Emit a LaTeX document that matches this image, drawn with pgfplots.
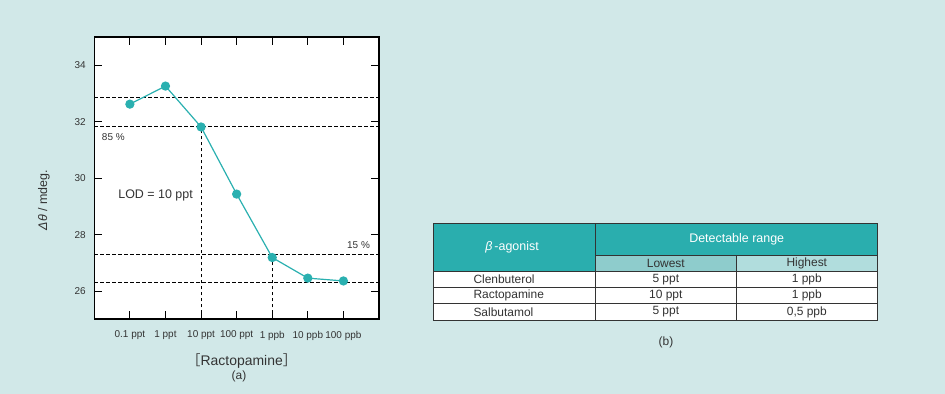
\documentclass[border=0pt]{standalone}
\usepackage{pgfplots}
\pgfplotsset{compat=1.18}
\usepackage{fontspec}
\setmainfont{Liberation Sans}
\newfontfamily\cjk{Noto Sans CJK JP}
\definecolor{bg}{HTML}{D1E8E8}
\definecolor{tealline}{HTML}{2AB0B0}
\definecolor{hdr}{HTML}{2AAEAE}
\definecolor{low}{HTML}{8ECCCC}
\definecolor{high}{HTML}{B1DDDD}
\definecolor{txt}{HTML}{333333}
\begin{document}
\begin{tikzpicture}
\fill[bg] (0,0) rectangle (945bp,394bp);
\begin{axis}[
 at={(94.3bp,74.7bp)}, anchor=south west,
 scale only axis, width=284.7bp, height=282bp,
 xmin=-1, xmax=7, ymin=25, ymax=35,
 xtick={0,1,2,3,4,5,6},
 xticklabels={0.1 ppt,1 ppt,10 ppt,100 ppt,1 ppb,10 ppb,100 ppb},
 ytick={26,28,30,32,34},
 tick align=inside, major tick length=8bp,
 axis line style={line width=1.6bp},
 every tick/.style={black, line width=1bp},
 axis background/.style={fill=white},
 ticklabel style={font=\fontsize{10}{12}\selectfont, text=txt},
 xticklabel style={yshift=-8bp},
 yticklabel style={xshift=-5bp},
 /pgf/number format/assume math mode=true,
 clip=false,
]
\addplot[black, line width=0.8bp, dash pattern=on 3.5bp off 2.5bp] coordinates {(-1,32.86) (7,32.86)};
\addplot[black, line width=0.8bp, dash pattern=on 3.5bp off 2.5bp] coordinates {(-1,31.83) (7,31.83)};
\addplot[black, line width=0.8bp, dash pattern=on 3.5bp off 2.5bp] coordinates {(-1,27.31) (7,27.31)};
\addplot[black, line width=0.8bp, dash pattern=on 3.5bp off 2.5bp] coordinates {(-1,26.32) (7,26.32)};
\addplot[black, line width=0.8bp, dash pattern=on 3.5bp off 2.5bp] coordinates {(2,25) (2,31.83)};
\addplot[black, line width=0.8bp, dash pattern=on 3.5bp off 2.5bp] coordinates {(4,25) (4,27.31)};
\addplot[tealline, line width=1.2bp, mark=*, mark size=4bp, mark options={fill=tealline, draw=tealline}] coordinates {
(0,32.63) (1,33.27) (2,31.82) (3,29.44) (4,27.19) (5,26.46) (6,26.36)};
\node[anchor=west, font=\fontsize{10}{12}\selectfont, text=txt, inner sep=0pt] at (axis cs:-0.79,31.47) {85 \%};
\node[anchor=east, font=\fontsize{10}{12}\selectfont, text=txt, inner sep=0pt] at (axis cs:6.75,27.63) {15 \%};
\node[anchor=west, font=\fontsize{12.5}{14}\selectfont, text=txt, inner sep=0pt] at (axis cs:-0.33,29.38) {LOD = 10 ppt};
\end{axis}
% axis titles
\node[rotate=90, font=\fontsize{12.5}{14}\selectfont, text=txt] at (44bp,194bp) {\textit{Δθ} / mdeg.};
\node[font=\fontsize{14}{16}\selectfont, text=txt] at (241.7bp,33.3bp) {{\cjk［}Ractopamine{\cjk］}};
\node[font=\fontsize{12}{14}\selectfont, text=txt] at (239bp,17.3bp) {(a)};
% table
\fill[white] (433.3bp,73.7bp) rectangle (877.7bp,122.3bp);
\fill[hdr] (433.3bp,138.3bp) rectangle (877.7bp,170.7bp);
\fill[hdr] (433.3bp,122.3bp) rectangle (595.7bp,138.3bp);
\fill[low] (595.7bp,122.3bp) rectangle (736bp,138.3bp);
\fill[high] (736bp,122.3bp) rectangle (877.7bp,138.3bp);
\begin{scope}[draw=txt, line width=1bp]
\draw (433.3bp,73.7bp) rectangle (877.7bp,170.7bp);
\draw (595.7bp,138.3bp) -- (877.7bp,138.3bp);
\draw (433.3bp,122.3bp) -- (877.7bp,122.3bp);
\draw (433.3bp,106.3bp) -- (877.7bp,106.3bp);
\draw (433.3bp,90.3bp) -- (877.7bp,90.3bp);
\draw (595.7bp,73.7bp) -- (595.7bp,170.7bp);
\draw (736bp,73.7bp) -- (736bp,138.3bp);
\end{scope}
\begin{scope}[font=\fontsize{12}{14}\selectfont]
\node[text=white, font=\fontsize{12.5}{14}\selectfont] at (512bp,146.5bp) {\textit{β}\,-agonist};
\node[text=white, font=\fontsize{12.5}{14}\selectfont] at (736.7bp,154.5bp) {Detectable range};
\node[text=txt] at (665.8bp,130.3bp) {Lowest};
\node[text=txt] at (806.8bp,130.3bp) {Highest};
\node[text=txt, anchor=west, inner sep=0pt] at (473.3bp,114.3bp) {Clenbuterol};
\node[text=txt, anchor=west, inner sep=0pt] at (473.3bp,98.3bp) {Ractopamine};
\node[text=txt, anchor=west, inner sep=0pt] at (473.3bp,82bp) {Salbutamol};
\node[text=txt] at (665.8bp,114.3bp) {5 ppt};
\node[text=txt] at (665.8bp,98.3bp) {10 ppt};
\node[text=txt] at (665.8bp,82bp) {5 ppt};
\node[text=txt] at (806.8bp,114.3bp) {1 ppb};
\node[text=txt] at (806.8bp,98.3bp) {1 ppb};
\node[text=txt] at (806.8bp,82bp) {0,5 ppb};
\end{scope}
\node[font=\fontsize{12}{14}\selectfont, text=txt] at (666bp,52bp) {(b)};
\end{tikzpicture}
\end{document}
